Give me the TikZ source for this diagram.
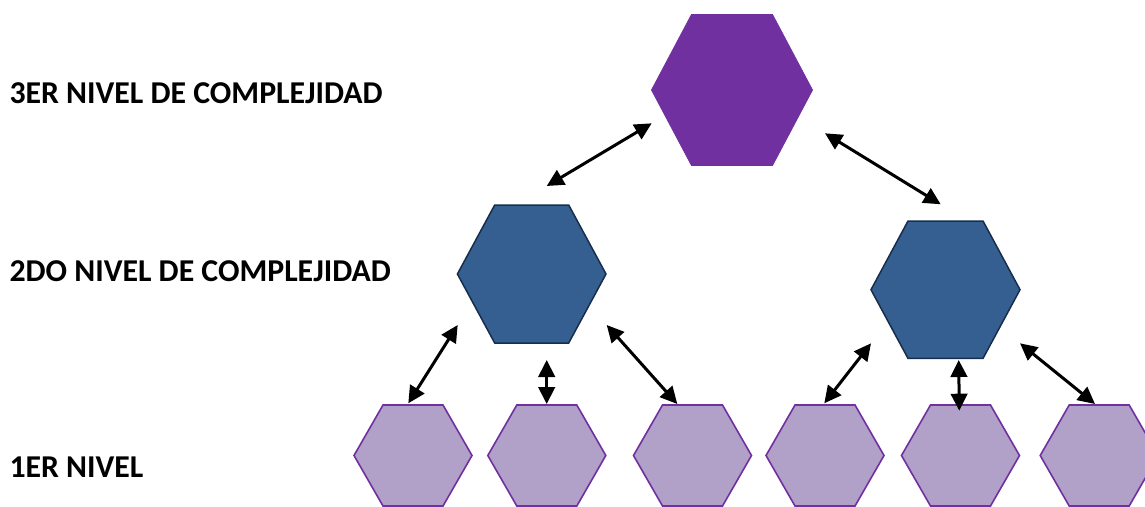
\documentclass[tikz,border=0pt]{standalone}
\usepackage{fontspec}
\setmainfont{Carlito}
\usetikzlibrary{arrows.meta}
\definecolor{topfill}{RGB}{112,48,160}
\definecolor{midfill}{RGB}{54,95,145}
\definecolor{midline}{RGB}{23,45,75}
\definecolor{lowfill}{RGB}{177,160,199}
\definecolor{lowline}{RGB}{112,48,160}
\tikzset{
  tophex/.style={fill=topfill, draw=topfill, line width=0.8pt},
  midhex/.style={fill=midfill, draw=midline, line width=1.5pt, line join=miter},
  lowhex/.style={fill=lowfill, draw=lowline, line width=1.6pt},
  link/.style={line width=3pt, {Triangle[length=17pt,width=16.5pt]}-{Triangle[length=17pt,width=16.5pt]}},
  lvl/.style={anchor=west, inner sep=0pt, font=\bfseries\fontsize{31.8}{36}\selectfont}
}
% #1 style, #2 centre, #3 half width, #4 half top edge, #5 half height
\newcommand{\hexa}[5]{%
  \draw[#1, shift={(#2)}] (-#3,0) -- (-#4,-#5) -- (#4,-#5) -- (#3,0) -- (#4,#5) -- (-#4,#5) -- cycle;}
\begin{document}
\begin{tikzpicture}[x=1pt,y=-1pt]
\useasboundingbox (0,0) rectangle (1145,506);
\clip (0,0) rectangle (1145,506);
% centres
\coordinate (top) at (732,90);
\coordinate (midL) at (531.7,274);
\coordinate (midR) at (945.5,289.7);
\coordinate (b1) at (413,455.5);
\coordinate (b2) at (546.8,455.5);
\coordinate (b3) at (692.5,455.5);
\coordinate (b4) at (825,455.5);
\coordinate (b5) at (960.5,455.5);
\coordinate (b6) at (1099.2,455.5);
% hexagons
\hexa{tophex}{top}{80.5}{40.5}{75.5}
\hexa{midhex}{midL}{74.3}{37}{69}
\hexa{midhex}{midR}{74.5}{37.5}{68.7}
\foreach \b in {b1,b2,b3,b4,b5,b6}{\hexa{lowhex}{\b}{59}{30}{50.5}}
% labels
\node[lvl] (l3) at (9.3,93.3) {3ER NIVEL DE COMPLEJIDAD};
\node[lvl] (l2) at (9.3,271) {2DO NIVEL DE COMPLEJIDAD};
\node[lvl] (l1) at (9.3,467.5) {1ER NIVEL};
% arrow end points
\coordinate (t1) at (651.7,123.3);  \coordinate (m1) at (546.7,186);
\coordinate (t2) at (825,133.3);    \coordinate (m2) at (940.7,204.3);
\coordinate (p3) at (457.7,325);    \coordinate (q3) at (408.3,403.3);
\coordinate (p4) at (546.7,360);    \coordinate (q4) at (546.7,404);
\coordinate (p5) at (606.7,325);    \coordinate (q5) at (677.3,404);
\coordinate (p6) at (871,343.3);    \coordinate (q6) at (824.3,403.3);
\coordinate (p7) at (958.7,360);    \coordinate (q7) at (959.3,410.7);
\coordinate (p8) at (1020,343.3);   \coordinate (q8) at (1095,404);
% connectors
\draw[link] (m1) -- (t1);
\draw[link] (t2) -- (m2);
\draw[link] (p3) -- (q3);
\draw[link] (p4) -- (q4);
\draw[link] (p5) -- (q5);
\draw[link] (p6) -- (q6);
\draw[link] (p7) -- (q7);
\draw[link] (p8) -- (q8);
\end{tikzpicture}
\end{document}
